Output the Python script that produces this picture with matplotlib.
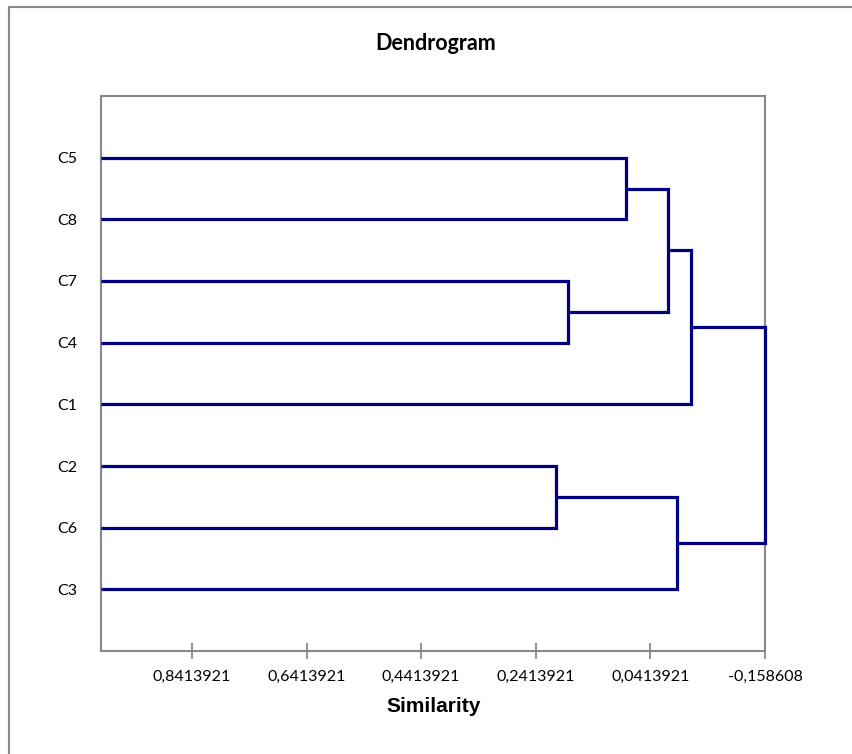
import matplotlib
matplotlib.use("Agg")
import matplotlib.pyplot as plt
from matplotlib.lines import Line2D

# ---- data ----
leaves = ["C5", "C8", "C7", "C4", "C1", "C2", "C6", "C3"]
# merges: (left node, right node, similarity level); nodes >= len(leaves) are earlier merges
merge_left = [0, 2, 8, 10, 5, 12, 11]
merge_right = [1, 3, 9, 4, 6, 7, 13]
merge_level = [0.0832, 0.1860, 0.0100, -0.0300, 0.2069, -0.0056, -0.158608]
tick_values = [0.8413921, 0.6413921, 0.4413921, 0.2413921, 0.0413921, -0.158608]
tick_labels = ["0,8413921", "0,6413921", "0,4413921", "0,2413921", "0,0413921", "-0,158608"]
x_left, x_right = 1.0, -0.158608

W, H = 853, 754
fig = plt.figure(figsize=(W / 100, H / 100), dpi=100)
ax = fig.add_axes([101 / W, (H - 651) / H, (765 - 101) / W, (651 - 96) / H])

navy = "#000080"
lw = 2.3
n = len(leaves)
pos = {i: (x_left, i + 1) for i in range(n)}
for k, (a, b, lev) in enumerate(zip(merge_left, merge_right, merge_level)):
    xa, ya = pos[a]
    xb, yb = pos[b]
    ax.plot([xa, lev, lev, xb], [ya, ya, yb, yb], color=navy, lw=lw,
            solid_joinstyle="miter", solid_capstyle="butt", zorder=3, clip_on=False)
    pos[n + k] = (lev, (ya + yb) / 2)

ax.set_xlim(x_left, x_right)
ax.set_ylim(n + 1, 0)
ax.set_yticks(range(1, n + 1))
ax.set_yticklabels(leaves, fontfamily="Lato", fontsize=11.5)
ax.tick_params(axis="y", length=0, pad=17)
ax.set_xticks(tick_values)
ax.set_xticklabels(tick_labels, fontfamily="Lato", fontsize=11.5)
ax.tick_params(axis="x", direction="inout", length=11, width=1.3, color="#888888", pad=8)
for s in ax.spines.values():
    s.set_color("#888888")
    s.set_linewidth(1.5)

fig.text(436 / W, 1 - 43 / H, "Dendrogram", ha="center", va="center",
         fontfamily="Lato", fontweight="bold", fontsize=15.5)
fig.text(434 / W, 1 - 707 / H, "Similarity", ha="center", va="center",
         fontfamily="Liberation Sans", fontweight="bold", fontsize=15)

# outer chart-area border (left and top edges visible)
fig.add_artist(Line2D([8.5 / W, 8.5 / W, 1.0], [0.0, 1 - 6.5 / H, 1 - 6.5 / H],
                      transform=fig.transFigure, color="#888888", lw=1.5))

fig.savefig("out.png", dpi=100)
